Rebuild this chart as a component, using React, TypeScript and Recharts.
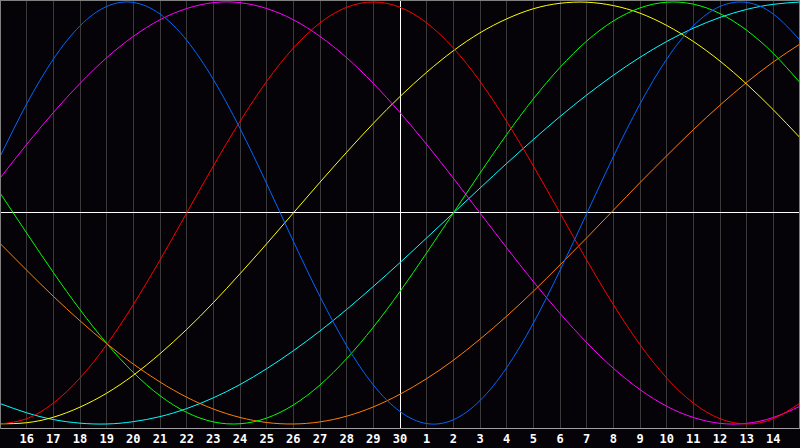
import { LineChart, Line, XAxis, YAxis, CartesianGrid, ReferenceLine } from 'recharts'

// day index 0..30 across the plot; 0 and 30 are the 15th of each month
const dayLabels = [
  '15', '16', '17', '18', '19', '20', '21', '22', '23', '24', '25', '26', '27', '28', '29', '30',
  '1', '2', '3', '4', '5', '6', '7', '8', '9', '10', '11', '12', '13', '14', '15',
]
const tickIdx = [1, 2, 3, 4, 5, 6, 7, 8, 9, 10, 11, 12, 13, 14, 15, 16, 17, 18, 19, 20, 21, 22, 23, 24, 25, 26, 27, 28, 29]

const physical = [
  0.267, 0.517, 0.729, 0.887, 0.979, 0.998, 0.943, 0.819, 0.633, 0.401, 0.139, -0.134, -0.396, -0.629, -0.815, -0.941,
  -0.998, -0.980, -0.889, -0.733, -0.522, -0.272, -0.003, 0.267, 0.517, 0.729, 0.887, 0.979, 0.998, 0.943, 0.819,
]
const emotional = [
  -1, -0.975, -0.901, -0.782, -0.624, -0.434, -0.223, 0, 0.223, 0.434, 0.624, 0.782, 0.901, 0.975, 1, 0.975,
  0.901, 0.782, 0.624, 0.434, 0.223, 0, -0.223, -0.434, -0.624, -0.782, -0.901, -0.975, -1, -0.975, -0.901,
]
const intellectual = [
  0.095, -0.095, -0.282, -0.458, -0.618, -0.756, -0.866, -0.945, -0.990, -0.999, -0.972, -0.910, -0.815, -0.690, -0.541, -0.372,
  -0.189, 0, 0.189, 0.372, 0.541, 0.690, 0.815, 0.910, 0.972, 0.999, 0.990, 0.945, 0.866, 0.756, 0.618,
]
const intuitive = [
  0.165, 0.325, 0.476, 0.614, 0.736, 0.837, 0.916, 0.969, 0.997, 0.997, 0.969, 0.916, 0.837, 0.736, 0.614, 0.476,
  0.325, 0.165, 0, -0.165, -0.325, -0.476, -0.614, -0.736, -0.837, -0.916, -0.969, -0.997, -0.997, -0.969, -0.916,
]
const aesthetic = [
  -0.999, -0.994, -0.968, -0.920, -0.854, -0.769, -0.667, -0.552, -0.425, -0.288, -0.146, 0, 0.146, 0.288, 0.425, 0.552,
  0.667, 0.769, 0.854, 0.920, 0.968, 0.994, 0.999, 0.983, 0.947, 0.889, 0.813, 0.720, 0.611, 0.489, 0.357,
]
const awareness = [
  -0.144, -0.271, -0.395, -0.511, -0.619, -0.716, -0.801, -0.873, -0.929, -0.969, -0.993, -1.0, -0.990, -0.963, -0.919, -0.859,
  -0.785, -0.698, -0.598, -0.489, -0.371, -0.246, -0.118, 0.013, 0.144, 0.271, 0.395, 0.511, 0.619, 0.716, 0.801,
]
const spiritual = [
  -0.903, -0.947, -0.979, -0.996, -1.0, -0.989, -0.965, -0.927, -0.876, -0.813, -0.738, -0.653, -0.559, -0.457, -0.348, -0.235,
  -0.118, 0, 0.118, 0.235, 0.348, 0.457, 0.559, 0.653, 0.738, 0.813, 0.876, 0.927, 0.965, 0.989, 1.0,
]

const data = dayLabels.map((d, i) => ({
  i,
  physical: physical[i],
  emotional: emotional[i],
  intellectual: intellectual[i],
  intuitive: intuitive[i],
  aesthetic: aesthetic[i],
  awareness: awareness[i],
  spiritual: spiritual[i],
}))

const series = [
  { key: 'spiritual', color: '#00ffff' },
  { key: 'awareness', color: '#ff7f00' },
  { key: 'aesthetic', color: '#ffff00' },
  { key: 'intuitive', color: '#ff00ff' },
  { key: 'intellectual', color: '#00ff00' },
  { key: 'emotional', color: '#ff0000' },
  { key: 'physical', color: '#0066ff' },
]

export default function App() {
  return (
    <div style={{ position: 'fixed', left: 0, top: 0, width: 800, height: 448, background: '#050308' }}>
      <LineChart width={800} height={448} data={data} margin={{ top: 0, right: 0, left: 0, bottom: 0 }}>
        <CartesianGrid stroke="#3a3a3a" horizontal={false} shapeRendering="crispEdges" />
        <XAxis
          type="number"
          dataKey="i"
          domain={[0, 30]}
          ticks={tickIdx}
          tickFormatter={(v: number) => dayLabels[v]}
          interval={0}
          height={20}
          tickLine={false}
          tickMargin={0}
          axisLine={{ stroke: '#a0a0a0', shapeRendering: 'crispEdges' }}
          tick={{ fill: '#ffffff', fontSize: 12, fontWeight: 'bold', fontFamily: 'DejaVu Sans Mono' }}
        />
        <YAxis hide domain={[-1.019, 1.0095]} />
        <ReferenceLine x={15} stroke="#ffffff" shapeRendering="crispEdges" />
        <ReferenceLine y={0} stroke="#ffffff" shapeRendering="crispEdges" />
        {series.map((s) => (
          <Line
            key={s.key}
            type="natural"
            dataKey={s.key}
            stroke={s.color}
            strokeWidth={1}
            dot={false}
            activeDot={false}
            isAnimationActive={false}
          />
        ))}
      </LineChart>
      <div
        style={{
          position: 'absolute', left: 0, top: 0, width: 800, height: 429,
          borderLeft: '1px solid #808080', borderTop: '1px solid #808080', borderRight: '1px solid #808080',
          boxSizing: 'border-box', pointerEvents: 'none',
        }}
      />
    </div>
  )
}
